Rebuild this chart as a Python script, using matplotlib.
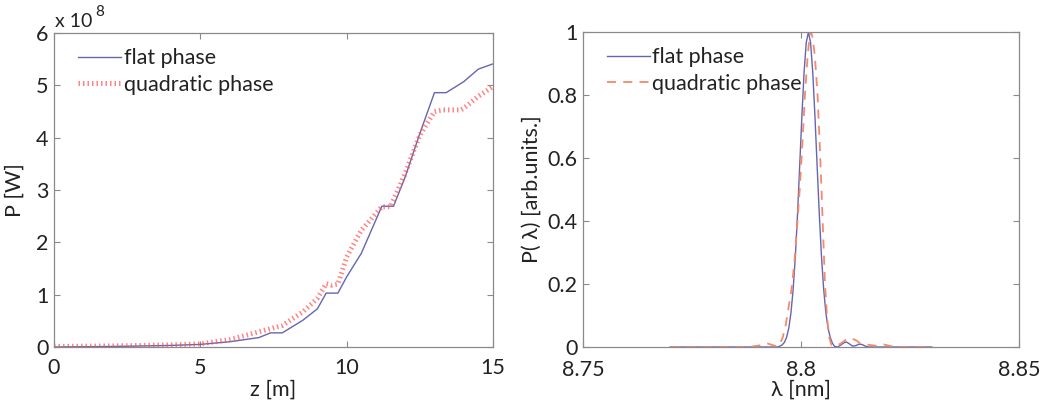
import matplotlib
matplotlib.use("Agg")
import matplotlib.pyplot as plt

plt.rcParams['font.family'] = ['Lato', 'DejaVu Sans']

# Left panel: power along undulator, units of 1e8 W
z_flat = [0, 2, 4, 5, 6, 7, 7.4, 7.8, 8.5, 9, 9.3, 9.7, 10, 10.5, 11, 11.2, 11.6, 12, 12.5, 13, 13.4, 14, 14.5, 15]
p_flat = [0.0, 0.01, 0.03, 0.05, 0.1, 0.18, 0.27, 0.27, 0.51, 0.73, 1.03, 1.03, 1.34, 1.79, 2.43, 2.69, 2.69, 3.25, 4.08, 4.86, 4.86, 5.07, 5.31, 5.41]
z_quad = [0, 2, 4, 5, 6, 7, 7.8, 8.5, 9, 9.3, 9.5, 9.7, 10, 10.5, 11, 11.2, 11.5, 12, 12.5, 13, 13.3, 13.9, 14, 14.5, 15]
p_quad = [0.01, 0.02, 0.04, 0.06, 0.14, 0.29, 0.41, 0.67, 0.93, 1.21, 1.18, 1.2, 1.72, 2.23, 2.55, 2.68, 2.68, 3.32, 4.05, 4.5, 4.53, 4.53, 4.56, 4.79, 4.98]

# Right panel: spectra
lam_flat = [8.770, 8.780, 8.790, 8.7947, 8.7952, 8.7957, 8.7962, 8.7967, 8.7972, 8.7977, 8.7982, 8.7987,
            8.7992, 8.7997, 8.8002, 8.8007, 8.8012, 8.8017, 8.8022, 8.8027, 8.8032, 8.8037, 8.8042,
            8.8047, 8.8052, 8.8057, 8.8062, 8.8067, 8.8072, 8.8077, 8.8084, 8.8091, 8.8098, 8.8104,
            8.8111, 8.8118, 8.8125, 8.8133, 8.8140, 8.8147, 8.8155, 8.820, 8.830]
s_flat = [0.0, 0.0, 0.0, 0.0, 0.003, 0.007, 0.015, 0.031, 0.06, 0.109, 0.183, 0.287,
          0.421, 0.575, 0.732, 0.871, 0.966, 1.0, 0.966, 0.871, 0.732, 0.575, 0.421,
          0.287, 0.183, 0.109, 0.06, 0.031, 0.012, 0.002, 0.0, 0.006, 0.013, 0.016,
          0.01, 0.003, 0.004, 0.009, 0.008, 0.003, 0.0, 0.0, 0.0]
lam_quad = [8.7700, 8.7800, 8.7880, 8.7905, 8.7921, 8.7935, 8.7945, 8.7952, 8.7958, 8.7965, 8.7972,
            8.7978, 8.7985, 8.7991, 8.7997, 8.8003, 8.8009, 8.8015, 8.8020, 8.8023, 8.8027, 8.8032,
            8.8038, 8.8043, 8.8047, 8.8051, 8.8055, 8.8060, 8.8065, 8.8070, 8.8080, 8.8090, 8.8100,
            8.8107, 8.8118, 8.8128, 8.8135, 8.8150, 8.8170, 8.8190, 8.8205, 8.8220, 8.8290]
s_quad = [0.0, 0.0, 0.0, 0.005, 0.012, 0.006, 0.002, 0.012, 0.03, 0.07, 0.13,
          0.18, 0.27, 0.38, 0.5, 0.64, 0.8, 0.92, 0.99, 1.0, 0.98, 0.92,
          0.8, 0.64, 0.5, 0.35, 0.2, 0.09, 0.03, 0.005, 0.004, 0.01, 0.02,
          0.028, 0.026, 0.02, 0.012, 0.008, 0.004, 0.008, 0.003, 0.0, 0.0]

blue = '#6466b0'
red_dot = '#ff5050'
red_dash = '#f58a6a'
txt = '#222222'
spine = '#8a8a8a'

fig = plt.figure(figsize=(10.43, 4.05), dpi=100)
W, H = 1043, 405
ax1 = fig.add_axes([54 / W, 1 - 347 / H, (493 - 54) / W, (347 - 33) / H])
ax2 = fig.add_axes([583 / W, 1 - 347 / H, (1019 - 583) / W, (347 - 32) / H])

fs = 15.5
for ax in (ax1, ax2):
    for s in ax.spines.values():
        s.set_color(spine)
        s.set_linewidth(0.9)
    ax.tick_params(direction='in', top=True, right=True, length=4, width=0.8,
                   color=spine, labelsize=fs, labelcolor=txt)
    ax.tick_params(axis='y', pad=4)
ax1.tick_params(axis='x', pad=8)
ax2.tick_params(axis='x', pad=9)

ax1.plot(z_flat, p_flat, color=blue, lw=1.0, label='flat phase')
ax1.plot(z_quad, p_quad, color=red_dot, lw=3.6, ls=(0, (0.3, 0.6)), dash_capstyle='butt',
         alpha=0.7, label='quadratic phase')
ax1.set_xlim(0, 15)
ax1.set_ylim(0, 6)
ax1.set_xticks([0, 5, 10, 15])
ax1.set_yticks([0, 1, 2, 3, 4, 5, 6])
ax1.set_xlabel('z [m]', fontsize=fs, color=txt, labelpad=1)
ax1.set_ylabel('P [W]', fontsize=fs, color=txt, labelpad=8)
ax1.text(0.003, 1.01, 'x 10', transform=ax1.transAxes, fontsize=14, color=txt,
         ha='left', va='bottom')
ax1.text(0.095, 1.045, '8', transform=ax1.transAxes, fontsize=11, color=txt,
         ha='left', va='bottom')
leg1 = ax1.legend(loc='upper left', frameon=False, fontsize=fs, handlelength=2.0,
                  handletextpad=0.15, borderaxespad=0.3, labelspacing=0.3, bbox_to_anchor=(0.02, 1.0))
for t in leg1.get_texts():
    t.set_color(txt)

ax2.plot(lam_flat, s_flat, color=blue, lw=1.0, label='flat phase')
ax2.plot(lam_quad, s_quad, color=red_dash, lw=1.3, ls=(0, (5, 4)), label='quadratic phase')
ax2.set_xlim(8.75, 8.85)
ax2.set_ylim(0, 1)
ax2.set_xticks([8.75, 8.8, 8.85])
ax2.set_xticklabels(['8.75', '8.8', '8.85'])
ax2.set_yticks([0, 0.2, 0.4, 0.6, 0.8, 1])
ax2.set_yticklabels(['0', '0.2', '0.4', '0.6', '0.8', '1'])
ax2.set_xlabel('λ [nm]', fontsize=fs, color=txt, labelpad=0)
ax2.set_ylabel('P( λ) [arb.units.]', fontsize=fs, color=txt, labelpad=4)
leg2 = ax2.legend(loc='upper left', frameon=False, fontsize=fs, handlelength=2.0,
                  handletextpad=0.1, borderaxespad=0.3, labelspacing=0.3, bbox_to_anchor=(0.02, 1.0))
for t in leg2.get_texts():
    t.set_color(txt)

fig.savefig('out.png', dpi=100)
